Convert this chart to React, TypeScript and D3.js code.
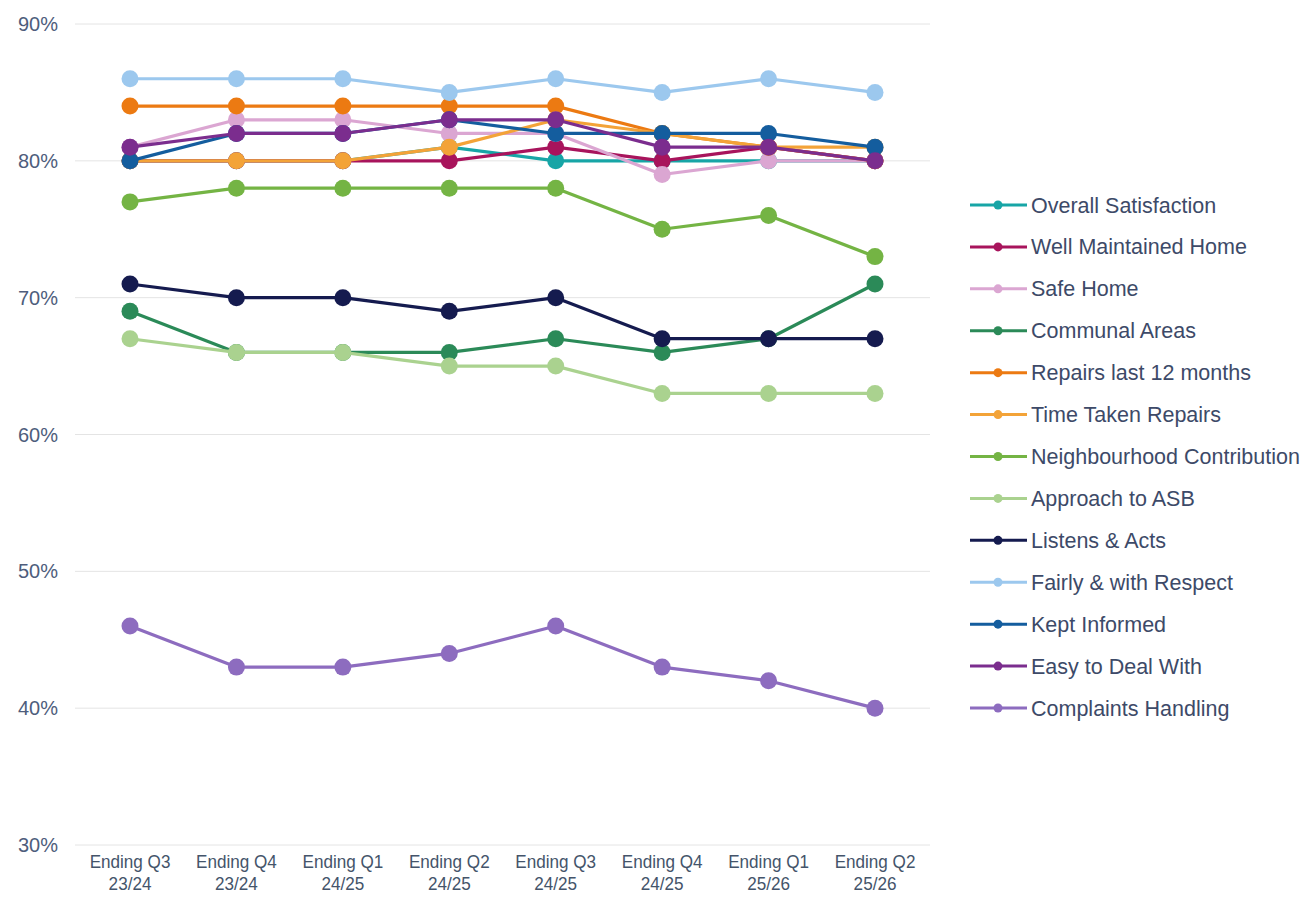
import React from "react";
import * as d3 from "d3";

const periods = [
  ["Ending Q3", "23/24"],
  ["Ending Q4", "23/24"],
  ["Ending Q1", "24/25"],
  ["Ending Q2", "24/25"],
  ["Ending Q3", "24/25"],
  ["Ending Q4", "24/25"],
  ["Ending Q1", "25/26"],
  ["Ending Q2", "25/26"],
];

const yTicks = [30, 40, 50, 60, 70, 80, 90];

const overallSatisfaction = [80, 80, 80, 81, 80, 80, 80, 80];
const wellMaintainedHome = [80, 80, 80, 80, 81, 80, 81, 80];
const safeHome = [81, 83, 83, 82, 82, 79, 80, 80];
const communalAreas = [69, 66, 66, 66, 67, 66, 67, 71];
const repairsLast12Months = [84, 84, 84, 84, 84, 82, 81, 80];
const timeTakenRepairs = [80, 80, 80, 81, 83, 82, 81, 81];
const neighbourhoodContribution = [77, 78, 78, 78, 78, 75, 76, 73];
const approachToASB = [67, 66, 66, 65, 65, 63, 63, 63];
const listensAndActs = [71, 70, 70, 69, 70, 67, 67, 67];
const fairlyWithRespect = [86, 86, 86, 85, 86, 85, 86, 85];
const keptInformed = [80, 82, 82, 83, 82, 82, 82, 81];
const easyToDealWith = [81, 82, 82, 83, 83, 81, 81, 80];
const complaintsHandling = [46, 43, 43, 44, 46, 43, 42, 40];

const series = [
  { name: "Overall Satisfaction", color: "#17a5a6", values: overallSatisfaction },
  { name: "Well Maintained Home", color: "#a8145c", values: wellMaintainedHome },
  { name: "Safe Home", color: "#dba6d2", values: safeHome },
  { name: "Communal Areas", color: "#2b8a58", values: communalAreas },
  { name: "Repairs last 12 months", color: "#ec7a12", values: repairsLast12Months },
  { name: "Time Taken Repairs", color: "#f3a338", values: timeTakenRepairs },
  { name: "Neighbourhood Contribution", color: "#74b444", values: neighbourhoodContribution },
  { name: "Approach to ASB", color: "#aad28f", values: approachToASB },
  { name: "Listens & Acts", color: "#151b4f", values: listensAndActs },
  { name: "Fairly & with Respect", color: "#9cc8ee", values: fairlyWithRespect },
  { name: "Kept Informed", color: "#145d9e", values: keptInformed },
  { name: "Easy to Deal With", color: "#7b2d8e", values: easyToDealWith },
  { name: "Complaints Handling", color: "#8d6cbf", values: complaintsHandling },
];

const W = 1311;
const H = 902;
const textColor = "#44546a";
const font = "'Liberation Sans', Arial, sans-serif";

export default function App() {
  const x = d3
    .scalePoint<number>()
    .domain(d3.range(periods.length))
    .range([130, 875]);
  const y = d3.scaleLinear().domain([30, 90]).range([845, 24]);

  const line = d3
    .line<number>()
    .x((_, i) => x(i) as number)
    .y((v) => y(v));

  const legendY = d3
    .scalePoint<number>()
    .domain(d3.range(series.length))
    .range([205, 708]);

  return (
    <svg
      width={W}
      height={H}
      style={{ position: "absolute", left: 0, top: 0, background: "#fff" }}
    >
      {/* gridlines */}
      {yTicks.map((t) => (
        <line
          key={t}
          x1={75}
          x2={930}
          y1={y(t)}
          y2={y(t)}
          stroke="#e4e4e4"
          strokeWidth={1}
        />
      ))}
      {/* y axis labels */}
      {yTicks.map((t) => (
        <text
          key={"l" + t}
          x={58}
          y={y(t)}
          dy="0.35em"
          textAnchor="end"
          fontFamily={font}
          fontSize={20}
          fill="#4e5d7c"
        >
          {t}%
        </text>
      ))}
      {/* x axis labels, slightly condensed */}
      {periods.map((p, i) => (
        <g key={"x" + i} transform={`translate(${x(i)},0) scale(0.9,1)`}>
          <text
            x={0}
            y={868}
            textAnchor="middle"
            fontFamily={font}
            fontSize={19}
            fill={textColor}
          >
            <tspan x={0} dy={0}>
              {p[0]}
            </tspan>
            <tspan x={0} dy={22}>
              {p[1]}
            </tspan>
          </text>
        </g>
      ))}
      {/* series */}
      {series.map((s) => (
        <g key={s.name}>
          <path
            d={line(s.values) || ""}
            fill="none"
            stroke={s.color}
            strokeWidth={3.2}
            strokeLinejoin="round"
          />
          {s.values.map((v, i) => (
            <circle key={i} cx={x(i)} cy={y(v)} r={8.5} fill={s.color} />
          ))}
        </g>
      ))}
      {/* legend */}
      {series.map((s, i) => {
        const ly = legendY(i) as number;
        return (
          <g key={"lg" + s.name}>
            <line
              x1={970}
              x2={1027}
              y1={ly}
              y2={ly}
              stroke={s.color}
              strokeWidth={3}
            />
            <circle cx={998} cy={ly} r={4.5} fill={s.color} />
            <text
              x={1031}
              y={ly}
              dy="0.35em"
              fontFamily={font}
              fontSize={21.5}
              fill="#3d4a68"
            >
              {s.name}
            </text>
          </g>
        );
      })}
    </svg>
  );
}
